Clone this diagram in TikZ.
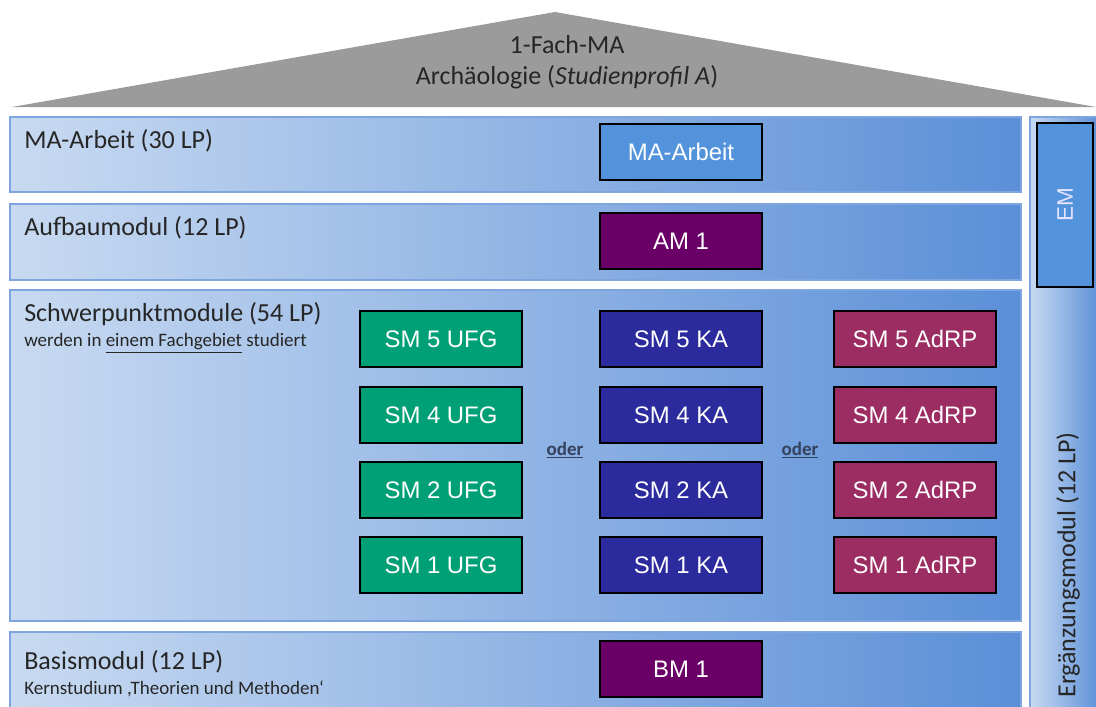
\documentclass[tikz,border=0pt]{standalone}
\usepackage{fontspec}
\setmainfont{Carlito}
\newfontfamily\boxfont{Liberation Sans}
\usepackage{xcolor}
\usetikzlibrary{positioning}

\definecolor{panelleft}{HTML}{C8DAF1}
\definecolor{panelright}{HTML}{5B8FD8}
\definecolor{panelline}{HTML}{7EA5E0}
\definecolor{roofgray}{HTML}{9B9B9B}
\definecolor{labeltext}{HTML}{262626}
\definecolor{maboxfill}{HTML}{5393DC}
\definecolor{purplefill}{HTML}{6A0067}
\definecolor{ufgfill}{HTML}{00A077}
\definecolor{kafill}{HTML}{2B2B9E}
\definecolor{adrpfill}{HTML}{9B2D63}
\definecolor{odertext}{HTML}{34425E}
\newcommand{\subsize}{\fontsize{13.5}{15}\selectfont}

\begin{document}
\begin{tikzpicture}[x=0.025cm, y=-0.025cm,
    panel/.style={left color=panelleft, right color=panelright, draw=panelline, line width=0.8pt},
    rowlabel/.style={anchor=north west, inner sep=0pt, text=labeltext, font=\fontsize{18.5}{20}\selectfont, align=left},
    module/.style={draw=black, line width=1.7pt, minimum width=4.05cm, minimum height=1.4cm, inner sep=0pt,
                   text=white, font=\boxfont\fontsize{17}{20}\selectfont},
    oder/.style={text=odertext, font=\bfseries\fontsize{13.5}{15}\selectfont}]
    \useasboundingbox (0,0) rectangle (1096,706);

    % Roof
    \fill[roofgray] (12,107) -- (555,12) -- (1096,107) -- cycle;
    \node[text=labeltext, font=\fontsize{18.5}{22}\selectfont, align=center] (roof) at (567,62)
      {1-Fach-MA\\Archäologie (\textit{Studienprofil A})};

    % Rows
    \shade[panel] (10,117) rectangle (1021,192);
    \shade[panel] (10,204) rectangle (1021,280);
    \shade[panel] (10,290) rectangle (1021,621);
    \shade[panel] (10,632) rectangle (1021,712);
    \shade[panel] (1030,117) rectangle (1100,712);

    % Row labels
    \node[rowlabel] (malabel) at (24,129) {MA-Arbeit (30 LP)};
    \node[rowlabel] (amlabel) at (24,216) {Aufbaumodul (12 LP)};
    \node[rowlabel] (smlabel) at (24,302) {Schwerpunktmodule (54 LP)\\[-2pt]
      {\subsize werden in \underline{einem Fachgebiet} studiert}};
    \node[rowlabel] (bmlabel) at (24,650) {Basismodul (12 LP)\\[-2pt]
      {\subsize Kernstudium ,Theorien und Methoden`}};
    \node[rotate=90, text=labeltext, font=\fontsize{18.5}{20}\selectfont] (emlabel) at (1068,565)
      {Ergänzungsmodul (12 LP)};

    % Modules
    \node[module, fill=maboxfill] (ma) at (681,152) {MA-Arbeit};
    \node[module, fill=purplefill] (am1) at (681,241) {AM 1};
    \node[module, fill=purplefill] (bm1) at (681,669) {BM 1};
    \node[module, fill=maboxfill, minimum width=1.4cm, minimum height=4.1cm] (em) at (1065,205) {};
    \node[rotate=90, text=white!90!blue, font=\boxfont\fontsize{16}{18}\selectfont] (emtext) at (em.center) {EM};

    \foreach \n/\y in {5/339, 4/415, 2/490, 1/565} {
      \node[module, fill=ufgfill] (ufg\n) at (441,\y) {SM \n\ UFG};
      \node[module, fill=kafill] (ka\n) at (681,\y) {SM \n\ KA};
      \node[module, fill=adrpfill] (adrp\n) at (915,\y) {SM \n\ AdRP};
    }

    % oder
    \node[oder] (oder1) at (565,450) {\underline{oder}};
    \node[oder] (oder2) at (800,450) {\underline{oder}};
\end{tikzpicture}
\end{document}
